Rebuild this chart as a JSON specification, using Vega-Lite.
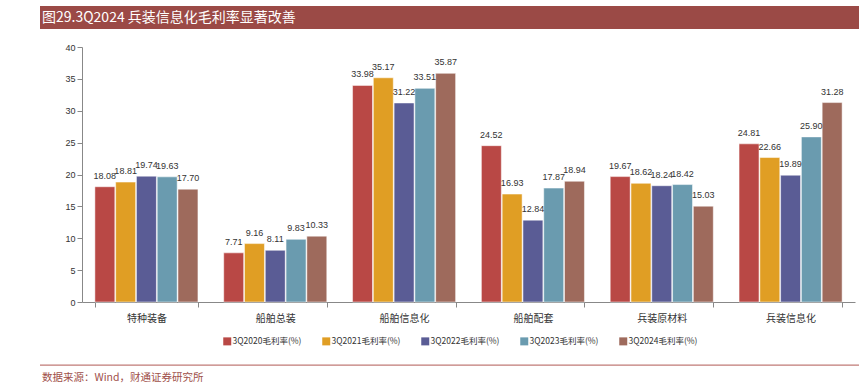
{
  "$schema": "https://vega.github.io/schema/vega-lite/v6.json",
  "width": 773,
  "height": 255,
  "autosize": {"type": "none"},
  "padding": {"left": 82, "top": 47, "right": 4, "bottom": 83},
  "background": "white",
  "config": {
    "view": {"stroke": null},
    "font": "Liberation Sans",
    "axisY": {"values": [0,5,10,15,20,25,30,35,40], "labelOverlap": false, "grid": false, "labelFontSize": 9, "labelColor": "#333333", "domainColor": "#888888", "tickColor": "#888888", "tickSize": 5, "title": null}
  },
  "layer": [
    {
      "data": {"values": [{}]},
      "mark": {"type": "rect", "x": -42, "x2": {"expr": "width + 4"}, "y": -41, "y2": -18, "color": "#9B4A46"},
      "encoding": {}
    },
    {
      "data": {"values": [{}]},
      "mark": {"type": "text", "x": -40, "y": -29, "align": "left", "baseline": "middle", "text": "图29.3Q2024 兵装信息化毛利率显著改善", "font": "Noto Sans CJK SC", "fontSize": 14, "color": "white"},
      "encoding": {}
    },
    {
      "data": {"values": [{}]},
      "mark": {"type": "rect", "x": -42, "x2": {"expr": "width + 4"}, "y": 317.5, "y2": 318.8, "color": "#C07A76"},
      "encoding": {}
    },
    {
      "data": {"values": [{}]},
      "mark": {"type": "text", "x": -40, "y": 331, "align": "left", "baseline": "middle", "text": "数据来源：Wind，财通证券研究所", "font": "Noto Sans CJK SC", "fontSize": 10.5, "color": "#A0504A"},
      "encoding": {}
    },
    {
      "data": {"name": "bars"},
      "mark": {"type": "bar", "stroke": "white", "strokeWidth": 0.5},
      "encoding": {
        "x": {"field": "category", "type": "nominal", "sort": null,
              "scale": {"paddingInner": 0.2, "paddingOuter": 0.1},
              "axis": {"title": null, "labelAngle": 0, "labelFont": "Noto Sans CJK SC", "labelFontSize": 10, "labelColor": "#333333", "domainColor": "#888888", "tickColor": "#888888", "tickBand": "extent", "labelPadding": 6}},
        "xOffset": {"field": "series", "type": "nominal", "sort": null, "scale": {"paddingInner": 0.04}},
        "y": {"field": "value", "type": "quantitative",
              "scale": {"domain": [0, 40], "nice": false}},
        "color": {"field": "series", "type": "nominal", "sort": null,
                  "scale": {"range": ["#B94845", "#E09E24", "#5A5C95", "#6A9BAF", "#9E6A5C"]},
                  "legend": {"title": null, "orient": "none", "legendX": 141, "legendY": 290, "direction": "horizontal", "columns": 5, "gridAlign": "all", "columnPadding": 20, "symbolType": "square", "symbolSize": 64, "symbolStrokeWidth": 0, "labelFont": "Noto Sans CJK SC", "labelFontSize": 8.5, "labelColor": "#333333", "labelOffset": 1}}
      }
    },
    {
      "data": {"name": "bars"},
      "mark": {"type": "text", "baseline": "bottom", "dy": -6, "fontSize": 9, "color": "#333333"},
      "encoding": {
        "x": {"field": "category", "type": "nominal", "sort": null},
        "xOffset": {"field": "series", "type": "nominal", "sort": null},
        "y": {"field": "value", "type": "quantitative"},
        "text": {"field": "value", "type": "quantitative", "format": ".2f"}
      }
    }
  ],
  "datasets": {
    "bars": [
      {"category": "特种装备", "series": "3Q2020毛利率(%)", "value": 18.08},
      {"category": "特种装备", "series": "3Q2021毛利率(%)", "value": 18.81},
      {"category": "特种装备", "series": "3Q2022毛利率(%)", "value": 19.74},
      {"category": "特种装备", "series": "3Q2023毛利率(%)", "value": 19.63},
      {"category": "特种装备", "series": "3Q2024毛利率(%)", "value": 17.70},
      {"category": "船舶总装", "series": "3Q2020毛利率(%)", "value": 7.71},
      {"category": "船舶总装", "series": "3Q2021毛利率(%)", "value": 9.16},
      {"category": "船舶总装", "series": "3Q2022毛利率(%)", "value": 8.11},
      {"category": "船舶总装", "series": "3Q2023毛利率(%)", "value": 9.83},
      {"category": "船舶总装", "series": "3Q2024毛利率(%)", "value": 10.33},
      {"category": "船舶信息化", "series": "3Q2020毛利率(%)", "value": 33.98},
      {"category": "船舶信息化", "series": "3Q2021毛利率(%)", "value": 35.17},
      {"category": "船舶信息化", "series": "3Q2022毛利率(%)", "value": 31.22},
      {"category": "船舶信息化", "series": "3Q2023毛利率(%)", "value": 33.51},
      {"category": "船舶信息化", "series": "3Q2024毛利率(%)", "value": 35.87},
      {"category": "船舶配套", "series": "3Q2020毛利率(%)", "value": 24.52},
      {"category": "船舶配套", "series": "3Q2021毛利率(%)", "value": 16.93},
      {"category": "船舶配套", "series": "3Q2022毛利率(%)", "value": 12.84},
      {"category": "船舶配套", "series": "3Q2023毛利率(%)", "value": 17.87},
      {"category": "船舶配套", "series": "3Q2024毛利率(%)", "value": 18.94},
      {"category": "兵装原材料", "series": "3Q2020毛利率(%)", "value": 19.67},
      {"category": "兵装原材料", "series": "3Q2021毛利率(%)", "value": 18.62},
      {"category": "兵装原材料", "series": "3Q2022毛利率(%)", "value": 18.24},
      {"category": "兵装原材料", "series": "3Q2023毛利率(%)", "value": 18.42},
      {"category": "兵装原材料", "series": "3Q2024毛利率(%)", "value": 15.03},
      {"category": "兵装信息化", "series": "3Q2020毛利率(%)", "value": 24.81},
      {"category": "兵装信息化", "series": "3Q2021毛利率(%)", "value": 22.66},
      {"category": "兵装信息化", "series": "3Q2022毛利率(%)", "value": 19.89},
      {"category": "兵装信息化", "series": "3Q2023毛利率(%)", "value": 25.90},
      {"category": "兵装信息化", "series": "3Q2024毛利率(%)", "value": 31.28}
    ]
  }
}
